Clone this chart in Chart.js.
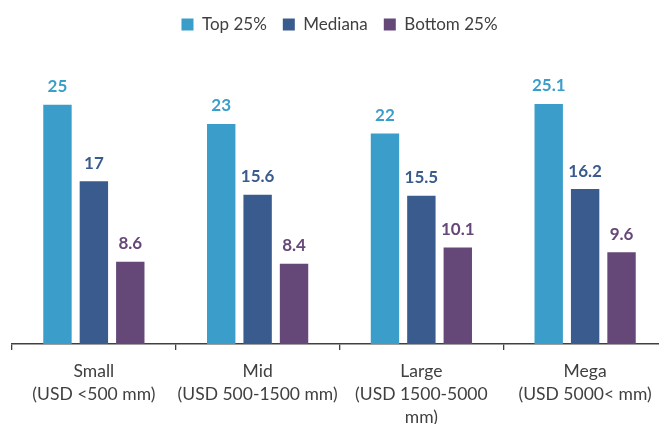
<!DOCTYPE html>
<html>
<head>
<meta charset="utf-8">
<script src="https://cdn.jsdelivr.net/npm/chart.js@4.4.1/dist/chart.umd.min.js"></script>
<style>
  html, body { margin: 0; padding: 0; background: #fff; overflow: hidden; }
  #wrap { width: 672px; height: 424px; }
</style>
</head>
<body>
<div id="wrap"><canvas id="c" width="672" height="424"></canvas></div>
<script>
// Fund size buckets and their quartile values
const categories = [
  ['Small', '(USD <500 mm)'],
  ['Mid', '(USD 500-1500 mm)'],
  ['Large', '(USD 1500-5000', 'mm)'],
  ['Mega', '(USD 5000< mm)']
];
const top25 = [25, 23, 22, 25.1];
const mediana = [17, 15.6, 15.5, 16.2];
const bottom25 = [8.6, 8.4, 10.1, 9.6];
const seriesNames = ['Top 25%', 'Mediana', 'Bottom 25%'];
const seriesColors = ['#3b9dc9', '#3a5b8d', '#654878'];

const FONT = 'Lato, "Open Sans", sans-serif';

// Value labels above each bar, in the bar's own colour
const valueLabels = {
  id: 'valueLabels',
  afterDatasetsDraw(chart) {
    const ctx = chart.ctx;
    ctx.save();
    ctx.font = 'bold 17px ' + FONT;
    ctx.textAlign = 'center';
    ctx.textBaseline = 'alphabetic';
    chart.data.datasets.forEach((ds, i) => {
      const meta = chart.getDatasetMeta(i);
      ctx.fillStyle = ds.backgroundColor;
      meta.data.forEach((bar, j) => {
        ctx.fillText(String(ds.data[j]), bar.x, bar.y - 12.5);
      });
    });
    ctx.restore();
  }
};

// Extra space under the legend
const legendGap = {
  id: 'legendGap',
  beforeInit(chart) {
    const fit = chart.legend.fit;
    chart.legend.fit = function () {
      fit.call(this);
      this.height += 14;
    };
  }
};

new Chart(document.getElementById('c'), {
  type: 'bar',
  data: {
    labels: categories,
    datasets: [
      { label: seriesNames[0], data: top25, backgroundColor: seriesColors[0] },
      { label: seriesNames[1], data: mediana, backgroundColor: seriesColors[1] },
      { label: seriesNames[2], data: bottom25, backgroundColor: seriesColors[2] }
    ]
  },
  options: {
    responsive: false,
    animation: false,
    layout: { padding: { left: 12, right: 5, top: 0, bottom: 0 } },
    datasets: { bar: { categoryPercentage: 0.667, barPercentage: 0.78 } },
    plugins: {
      legend: {
        position: 'top',
        labels: {
          boxWidth: 12, boxHeight: 12, padding: 16,
          color: '#404040',
          font: { family: FONT, size: 17 }
        }
      },
      tooltip: { enabled: false }
    },
    scales: {
      x: {
        offset: true,
        afterFit(scale) { scale.height = 80; },
        grid: {
          offset: true, drawOnChartArea: false, drawTicks: true,
          tickLength: 6, color: '#404040', lineWidth: 1.3
        },
        border: { display: true, color: '#404040', width: 1.5 },
        ticks: {
          color: '#404040', padding: 10, maxRotation: 0, autoSkip: false,
          font: { family: FONT, size: 17.5, lineHeight: 1.32 }
        }
      },
      y: {
        display: false,
        min: 0,
        max: 30
      }
    }
  },
  plugins: [valueLabels, legendGap]
});
</script>
</body>
</html>
